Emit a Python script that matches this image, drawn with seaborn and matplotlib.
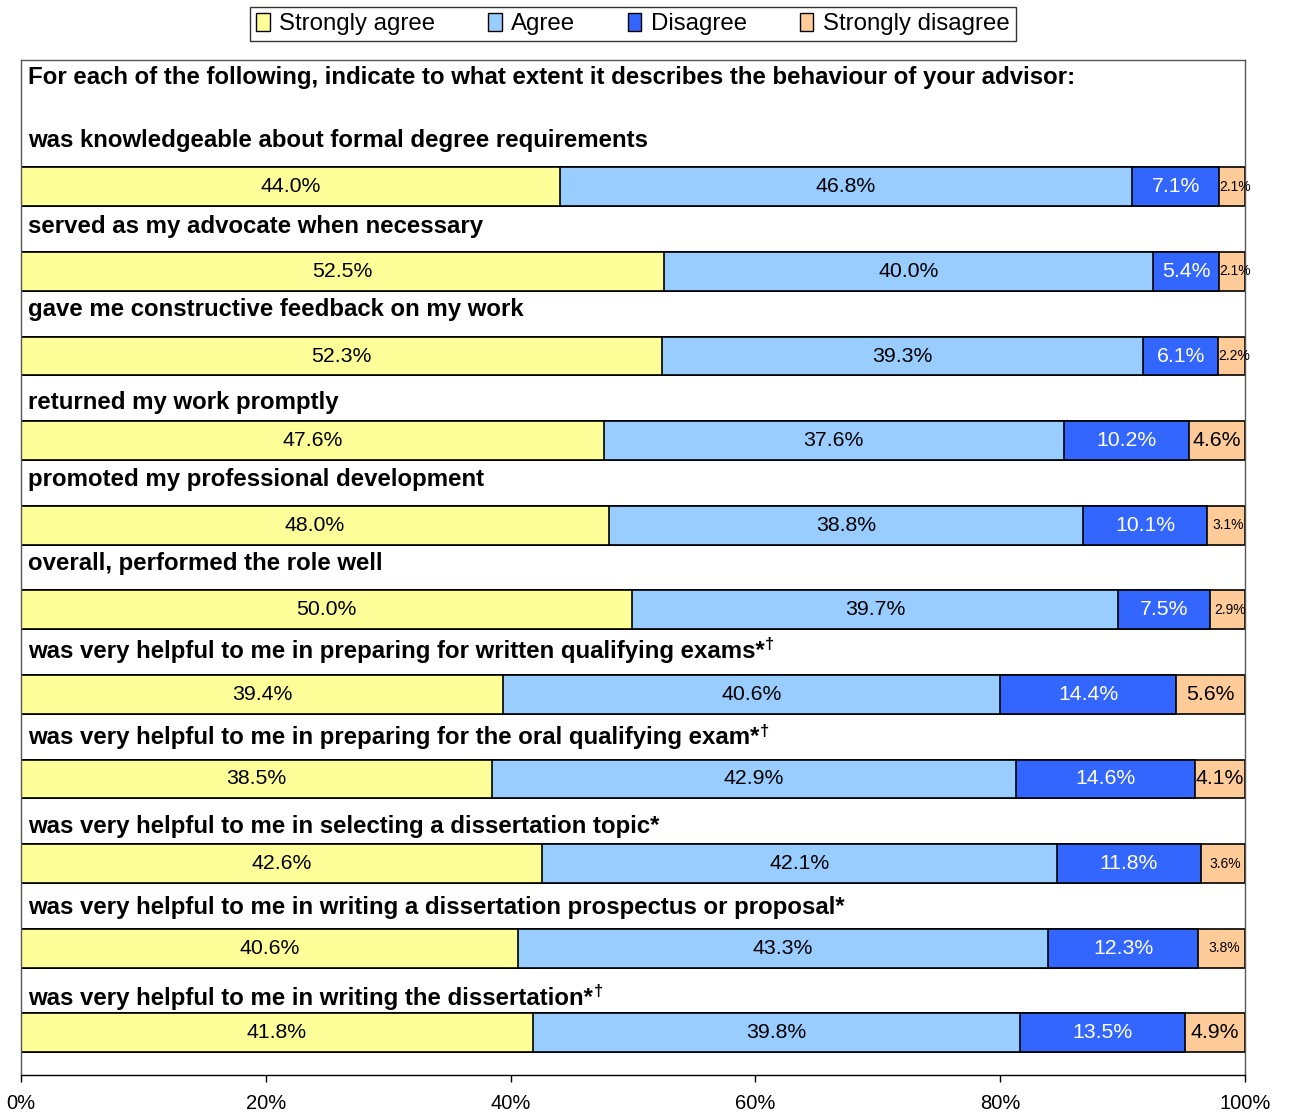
import numpy as np
import pandas as pd
import matplotlib
matplotlib.use("Agg")
import matplotlib.pyplot as plt
import seaborn as sns
from matplotlib.patches import Patch

sns.set_theme(style="white")
plt.rcParams['font.family'] = ['Liberation Sans', 'DejaVu Sans']
plt.rcParams['text.color'] = 'black'
plt.rcParams['xtick.color'] = 'black'
plt.rcParams['axes.labelcolor'] = 'black'

heading = "For each of the following, indicate to what extent it describes the behaviour of your advisor:"
items = [
    "was knowledgeable about formal degree requirements",
    "served as my advocate when necessary",
    "gave me constructive feedback on my work",
    "returned my work promptly",
    "promoted my professional development",
    "overall, performed the role well",
    "was very helpful to me in preparing for written qualifying exams*",
    "was very helpful to me in preparing for the oral qualifying exam*",
    "was very helpful to me in selecting a dissertation topic*",
    "was very helpful to me in writing a dissertation prospectus or proposal*",
    "was very helpful to me in writing the dissertation*",
]
dagger = [False, False, False, False, False, False, True, True, False, False, True]
series_names = ["Strongly agree", "Agree", "Disagree", "Strongly disagree"]
strongly_agree = [44.0, 52.5, 52.3, 47.6, 48.0, 50.0, 39.4, 38.5, 42.6, 40.6, 41.8]
agree = [46.8, 40.0, 39.3, 37.6, 38.8, 39.7, 40.6, 42.9, 42.1, 43.3, 39.8]
disagree = [7.1, 5.4, 6.1, 10.2, 10.1, 7.5, 14.4, 14.6, 11.8, 12.3, 13.5]
strongly_disagree = [2.1, 2.1, 2.2, 4.6, 3.1, 2.9, 5.6, 4.1, 3.6, 3.8, 4.9]
x_ticks = [0, 20, 40, 60, 80, 100]
x_ticklabels = ["0%", "20%", "40%", "60%", "80%", "100%"]

# layout
colors = ["#FFFF99", "#99CCFF", "#3366FF", "#FFCC99"]
text_colors = ["black", "black", "white", "black"]
label_gap_px = [46, 45, 46, 38, 46, 46, 43, 41, 37, 41, 34]
row_px = 84.5

vals = np.array([strongly_agree, agree, disagree, strongly_disagree])
tot = vals.sum(axis=0)
shares = vals / tot * 100
cum = np.cumsum(shares, axis=0)

fig = plt.figure(figsize=(12.9, 11.13), dpi=100)
ax = fig.add_axes([21/1290, 1-1075/1113, 1224/1290, 1015/1113])

n = len(items)
df = pd.DataFrame({"item": items})
for k in reversed(range(4)):
    df["x"] = cum[k]
    sns.barplot(data=df, x="x", y="item", orient="h", color=colors[k],
                width=0.46, edgecolor="black", linewidth=1.2, saturation=1,
                ax=ax, zorder=2)

left = np.vstack([np.zeros(n), cum[:-1]])
for k in range(4):
    for i in range(n):
        v = vals[k, i]
        cx = left[k, i] + shares[k, i] / 2
        small = v < 4.0
        ax.text(cx + (0.2 if small else 0), i, f"{v:.1f}%", ha="center", va="center",
                fontsize=10 if small else 15.3, color=text_colors[k], zorder=5)

ax.set_xlim(0, 100)
ax.set_ylim(10.5, -1.5)
ax.set_ylabel("")
ax.set_xlabel("")
ax.set_yticks([])
ax.set_xticks(x_ticks)
ax.set_xticklabels(x_ticklabels, fontsize=14.5)
ax.tick_params(axis="x", direction="out", length=5, width=1, color="black", pad=9,
               bottom=True, labelcolor="black")
for s in ["left", "top", "right"]:
    ax.spines[s].set_color("#555555")
    ax.spines[s].set_linewidth(1)
ax.spines["bottom"].set_color("black")
ax.spines["bottom"].set_linewidth(1)

ax.text(0.57, -1.5 + (77-60)/row_px, heading, fontsize=17.3, fontweight="bold",
        ha="left", va="center", zorder=5)
for i, lab in enumerate(items):
    t = ax.text(0.57, i - label_gap_px[i]/row_px, lab, fontsize=17.3, fontweight="bold",
                ha="left", va="center", zorder=5)
    if dagger[i]:
        ax.annotate("\u2020", xy=(1.0, 0.8), xycoords=t, fontsize=12, fontweight="bold",
                    ha="left", va="center", xytext=(0.5, 0), textcoords="offset points")

handles = [Patch(facecolor=c, edgecolor="black", linewidth=1) for c in colors]
leg = fig.legend(handles, series_names, loc="upper center", ncol=4,
                 bbox_to_anchor=(633/1290, 1-7/1113), frameon=True, fancybox=False,
                 edgecolor="black", fontsize=17.3, handlelength=0.55, handleheight=0.75,
                 handletextpad=0.4, columnspacing=2.2, borderpad=0.25, borderaxespad=0)
leg.get_frame().set_linewidth(1)

fig.savefig("out.png", dpi=100)
